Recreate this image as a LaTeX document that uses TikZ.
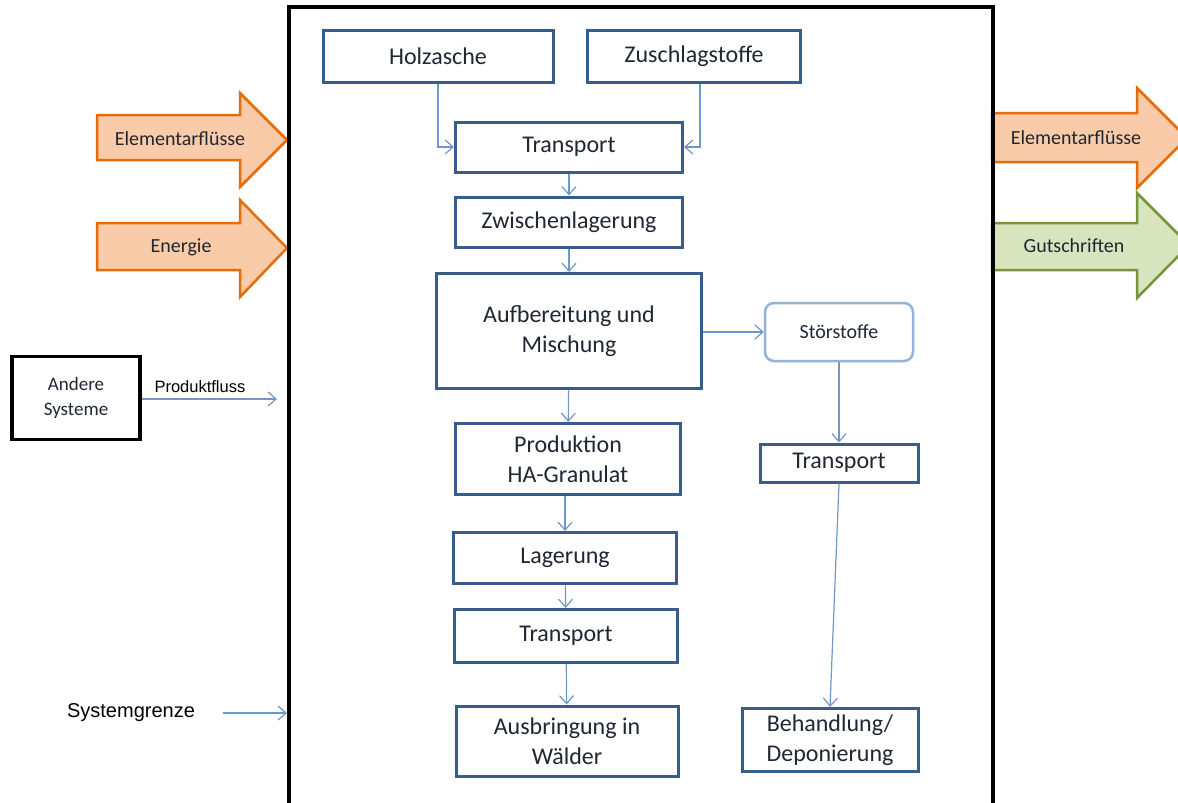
\documentclass[tikz,border=0pt]{standalone}
\usepackage{fontspec}
\setmainfont{Carlito}
\newfontfamily\arialfont{Liberation Sans}
\usepackage{tikz}
\usetikzlibrary{
    arrows,
    arrows.meta,
    positioning,
    calc,
}

\definecolor{boxblue}{HTML}{385D8A}
\definecolor{flowblue}{HTML}{7197C9}
\definecolor{lightblue}{HTML}{95B3D7}
\definecolor{textdark}{HTML}{1F2733}
\definecolor{orangeline}{HTML}{E46C0A}
\definecolor{orangefill}{HTML}{F9CBA8}
\definecolor{greenline}{HTML}{77933C}
\definecolor{greenfill}{HTML}{D7E4BD}

\begin{document}
\begin{tikzpicture}[
    x=1pt, y=-1pt,
    >={Straight Barb[length=8pt,width=14pt]},
    proc/.style={draw=boxblue, line width=3pt, fill=white, text=textdark, align=center, inner sep=0pt, font=\fontsize{24}{30}\selectfont},
    waste/.style={draw=lightblue, line width=2.5pt, rounded corners=9pt, fill=white, text=textdark, inner sep=0pt, font=\fontsize{20}{24}\selectfont},
    flow/.style={->, draw=flowblue, line width=1.2pt},
    inflow/.style={draw=orangeline, fill=orangefill, line width=2.5pt, line join=miter},
    credit/.style={draw=greenline, fill=greenfill, line width=2.5pt, line join=miter},
    arrowlabel/.style={text=textdark, font=\fontsize{20}{24}\selectfont},
    ]

\fill[white] (0,0) rectangle (1178,803);
\useasboundingbox (0,0) rectangle (1178,803);

% flows crossing the boundary
\draw[inflow] (97,115) -- (240,115) -- (240,93) -- (287,140) -- (240,187) -- (240,160) -- (97,160) -- cycle;
\node[arrowlabel] (elemin) at (180,139) {Elementarflüsse};
\draw[inflow] (97,223) -- (240,223) -- (240,200) -- (287,248) -- (240,297) -- (240,270) -- (97,270) -- cycle;
\node[arrowlabel] (energie) at (181,247) {Energie};
\draw[inflow] (992,113) -- (1137,113) -- (1137,88) -- (1187,138) -- (1137,188) -- (1137,162) -- (992,162) -- cycle;
\node[arrowlabel] (elemout) at (1076,138) {Elementarflüsse};
\draw[credit] (992,223) -- (1137,223) -- (1137,193) -- (1189,245) -- (1137,298) -- (1137,270) -- (992,270) -- cycle;
\node[arrowlabel] (gut) at (1074,246) {Gutschriften};

% system boundary
\draw[line width=3.5pt] (289,820) -- (289,7) -- (993,7) -- (993,820);

% process chain
\node[proc, minimum width=230pt, minimum height=52pt] (holz) at (438,56) {Holzasche};
\node[proc, minimum width=213pt, minimum height=52pt] (zusch) at (694,56) {Zuschlagstoffe};
\node[proc, minimum width=227pt, minimum height=50pt] (trans1) at (569,147) {Transport};
\node[proc, minimum width=227pt, minimum height=50pt] (zwisch) at (569,222) {Zwischenlagerung};
\node[proc, minimum width=265pt, minimum height=115pt] (aufb) at (569,331) {Aufbereitung und\\Mischung};
\node[proc, minimum width=225pt, minimum height=71pt] (prod) at (568,459) {Produktion\\HA-Granulat};
\node[proc, minimum width=223pt, minimum height=51pt] (lager) at (565,558) {Lagerung};
\node[proc, minimum width=223pt, minimum height=53pt] (trans3) at (566,636) {Transport};
\node[proc, minimum width=222pt, minimum height=70pt] (ausbr) at (567,741) {Ausbringung in\\Wälder};

\node[waste, minimum width=148pt, minimum height=58pt] (stoer) at (839,332) {Störstoffe};
\node[proc, minimum width=158pt, minimum height=38pt] (trans2) at (839,463) {Transport};
\node[proc, minimum width=176pt, minimum height=63pt] (behand) at (830,740) {Behandlung/\\Deponierung};

\draw[flow] (holz.south) |- (trans1.west);
\draw[flow] ([xshift=6pt]zusch.south) |- (trans1.east);
\draw[flow] (trans1) -- (zwisch);
\draw[flow] (zwisch) -- (aufb);
\draw[flow] (aufb) -- (prod);
\draw[flow] (lager.north |- prod.south) -- (lager.north);
\draw[flow] (lager) -- (trans3);
\draw[flow] (trans3) -- (ausbr);
\draw[flow] (aufb.east |- stoer.west) -- (stoer.west);
\draw[flow] (stoer) -- (trans2);
\draw[flow] (trans2.south) -- (behand.north);

% outside the boundary
\node[draw=black, line width=3.5pt, minimum width=128pt, minimum height=83pt, inner sep=0pt, align=center, text=textdark, font=\fontsize{19}{25}\selectfont] (andere) at (76,398) {Andere\\Systeme};
\coordinate (pfend) at (277,399);
\draw[flow] (andere.east |- pfend) -- (pfend) node[pos=0.43, above=2pt, text=black, font=\arialfont\fontsize{16.5}{20}\selectfont] (pflabel) {Produktfluss};

\node[text=black, font=\arialfont\fontsize{20}{24}\selectfont] (sysg) at (131,713) {Systemgrenze};
\coordinate (sgend) at (287,713);
\draw[flow] ([xshift=25pt]sysg.east) -- (sgend);

\end{tikzpicture}
\end{document}
